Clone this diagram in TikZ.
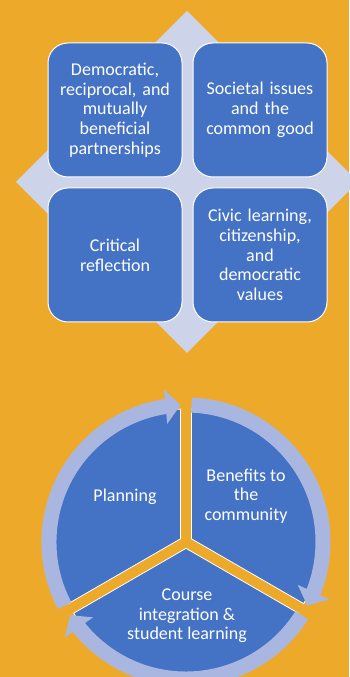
\documentclass[tikz,border=0pt]{standalone}
\usepackage{fontspec}
\setmainfont{Carlito}
\usetikzlibrary{arrows.meta,bending}
\definecolor{bgorange}{RGB}{237,170,42}
\definecolor{boxblue}{RGB}{68,114,196}
\definecolor{diamondblue}{RGB}{205,212,234}
\definecolor{ringblue}{RGB}{169,183,224}

\begin{document}
\begin{tikzpicture}
[x=1pt,y=1pt,>={Triangle[width=34pt,length=15pt]},
 box/.style={draw=white,line width=1pt,fill=boxblue,rounded corners=20pt,minimum size=134pt,inner sep=0pt,text width=128pt,align=center,text=white,font=\fontsize{18}{19.7}\selectfont},
 slice/.style={draw=white,line width=0.8pt,fill=boxblue},
 slicetext/.style={text=white,align=center,font=\fontsize{18}{19.7}\selectfont},
 ring/.style={draw=ringblue,line width=15pt,->}]

%%
%%%Sizes of the cycle
\def\r{133}
\def\R{137}
\def\g{6.35}
\def\d{2.37}
\def\e{2.3}
%%

% the background
\fill[bgorange] (0,0) rectangle (349,677);
\useasboundingbox (0,0) rectangle (349,677);

% the diamond behind the boxes
\fill[diamondblue] (187,666) -- (16,495) -- (187,324) -- (358,495) -- cycle;

% the four boxes
\node[box] (partner) at (115,567) {Democratic,\\ reciprocal, and\\ mutually\\ beneficial\\ partnerships};
\node[box] (societal) at (260,567) {Societal issues\\ and the\\ common good};
\node[box] (reflect) at (115,422) {Critical\\ reflection};
\node[box] (civic) at (260,422) {Civic learning,\\ citizenship,\\ and\\ democratic\\ values};

% the centre of the cycle
\coordinate (O) at (186,135);

\begin{scope}[shift={(O)}]
% the three slices
\draw[slice] (150:\g) -- (90+\d:\r) arc[start angle=90+\d,end angle=210-\d,radius=\r] -- cycle;
\draw[slice] (270:\g) -- (210+\d:\r) arc[start angle=210+\d,end angle=330-\d,radius=\r] -- cycle;
\draw[slice] (30:\g) -- (-30+\d:\r) arc[start angle=-30+\d,end angle=90-\d,radius=\r] -- cycle;

% the arrows round the ring
\draw[ring] (210-\e:\R) arc[start angle=210-\e,end angle=90+\e,radius=\R];
\draw[ring] (90-\e:\R) arc[start angle=90-\e,end angle=-30+\e,radius=\R];
\draw[ring] (-30-\e:\R) arc[start angle=-30-\e,end angle=-150+\e,radius=\R];

% labelling the slices
\node[slicetext] (plan) at (-61,45) {Planning};
\node[slicetext] (benefit) at (60,46) {Benefits to\\ the\\ community};
\node[slicetext] (course) at (1,-74) {Course\\ integration \&\\ student learning};
\end{scope}

\end{tikzpicture}
\end{document}
